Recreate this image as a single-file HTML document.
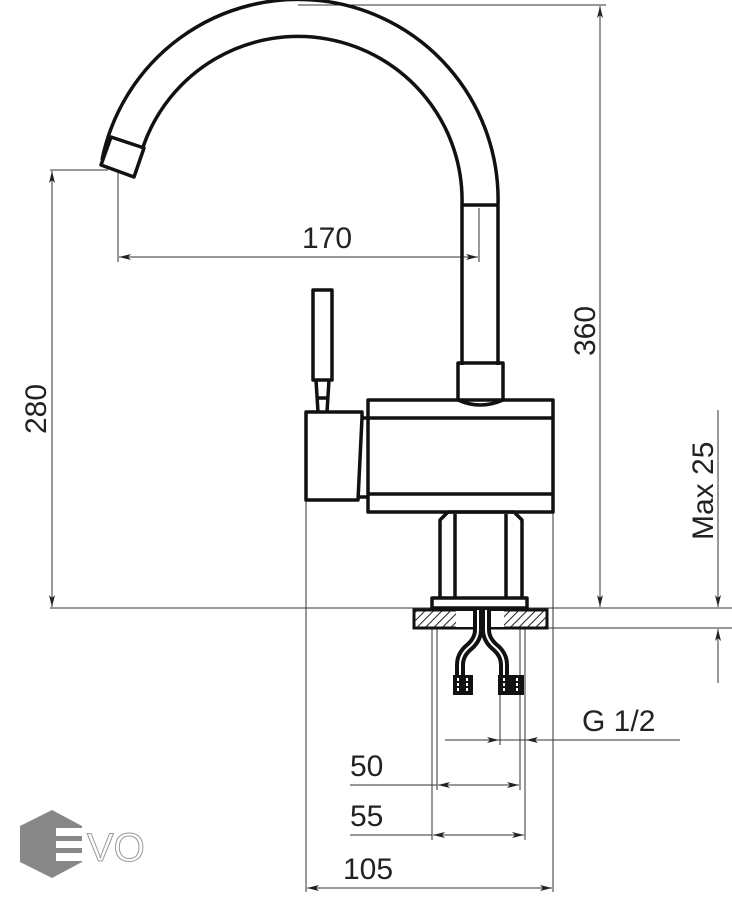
<!DOCTYPE html>
<html><head><meta charset="utf-8"><style>html,body{margin:0;padding:0;background:#fff}svg{display:block}</style></head>
<body>
<svg width="732" height="900" viewBox="0 0 732 900" xmlns="http://www.w3.org/2000/svg" font-family="Liberation Sans, sans-serif">
<defs>
<marker id="a" viewBox="0 0 12 6" refX="12" refY="3" markerWidth="12" markerHeight="6" orient="auto-start-reverse" markerUnits="userSpaceOnUse"><path d="M0,0 L12,3 L0,6 L3,3 z" fill="#222"/></marker>
<pattern id="h" width="6" height="6" patternUnits="userSpaceOnUse" patternTransform="rotate(45)"><line x1="0" y1="0" x2="0" y2="6" stroke="#222" stroke-width="2"/></pattern>
</defs>
<g stroke="#333" stroke-width="1" fill="none">
<line x1="298" y1="5" x2="606" y2="5"/>
<line x1="600" y1="6" x2="600" y2="607" marker-start="url(#a)" marker-end="url(#a)"/>
<line x1="50" y1="170" x2="108" y2="170"/>
<line x1="52" y1="171" x2="52" y2="607" marker-start="url(#a)" marker-end="url(#a)"/>
<line x1="50" y1="608" x2="732" y2="608"/>
<line x1="548" y1="628" x2="732" y2="628"/>
<line x1="718" y1="410" x2="718" y2="607" marker-end="url(#a)"/>
<line x1="718" y1="683" x2="718" y2="629" marker-end="url(#a)"/>
<line x1="118" y1="172" x2="118" y2="262"/>
<line x1="479" y1="208" x2="479" y2="262"/>
<line x1="119" y1="257" x2="478" y2="257" marker-start="url(#a)" marker-end="url(#a)"/>
<line x1="306" y1="500" x2="306" y2="892"/>
<line x1="553" y1="512" x2="553" y2="892"/>
<line x1="432" y1="628" x2="432" y2="840"/>
<line x1="437" y1="628" x2="437" y2="790"/>
<line x1="520" y1="628" x2="520" y2="790"/>
<line x1="525" y1="628" x2="525" y2="840"/>
<line x1="500" y1="695" x2="500" y2="745"/>
<line x1="445" y1="740" x2="680" y2="740"/>
<line x1="470" y1="740" x2="499" y2="740" marker-end="url(#a)"/>
<line x1="550" y1="740" x2="526" y2="740" marker-end="url(#a)"/>
<line x1="350" y1="785" x2="437" y2="785"/>
<line x1="438" y1="785" x2="519" y2="785" marker-start="url(#a)" marker-end="url(#a)"/>
<line x1="350" y1="835" x2="432" y2="835"/>
<line x1="433" y1="835" x2="524" y2="835" marker-start="url(#a)" marker-end="url(#a)"/>
<line x1="307" y1="888" x2="552" y2="888" marker-start="url(#a)" marker-end="url(#a)"/>
</g>
<g stroke="#111" stroke-width="3.5" fill="none" stroke-linejoin="round">
<path d="M102,160 A200,200 0 0 1 498,205 L498,365"/>
<path d="M143,147 A164,164 0 0 1 462,205 L462,365"/>
<line x1="462" y1="205" x2="498" y2="205"/>
<path d="M111,137 L144,148 L134,177 L101,165 Z" fill="#fff"/>
<path d="M458,400 L458,363 L503,363 L503,400 Q480,410 458,400"/>
<rect x="368" y="400" width="185" height="112"/>
<line x1="368" y1="418" x2="553" y2="418"/>
<line x1="368" y1="494" x2="553" y2="494"/>
<rect x="313" y="290" width="19" height="90"/>
<path d="M316,380 L318,412 M329,380 L327,412"/>
<line x1="317" y1="398" x2="328" y2="398"/>
<path d="M306,412 L362,412 L362,418 L358,500 L306,500 Z"/>
<line x1="362" y1="418" x2="368" y2="418"/>
<line x1="358" y1="497" x2="368" y2="497"/>
<path d="M440,598 L440,520 L448,512 L514,512 L522,520 L522,598"/>
<line x1="455" y1="514" x2="455" y2="598"/>
<line x1="506" y1="514" x2="506" y2="598"/>
<rect x="432" y="598" width="95" height="10"/>
</g>
<rect x="414" y="610" width="133" height="18" fill="url(#h)" stroke="#111" stroke-width="3"/>
<rect x="456" y="611" width="48" height="16" fill="#fff"/>
<g fill="none" stroke="#111" stroke-linejoin="round">
<path d="M478,610 L478,630 Q478,640 468,648 Q460,655 460,665 L460,680" stroke-width="10"/>
<path d="M486,610 L486,630 Q486,640 496,648 Q504,655 504,665 L504,680" stroke-width="10"/>
<path d="M478,610 L478,630 Q478,640 468,648 Q460,655 460,665 L460,680" stroke="#fff" stroke-width="2"/>
<path d="M486,610 L486,630 Q486,640 496,648 Q504,655 504,665 L504,680" stroke="#fff" stroke-width="2"/>
</g>
<rect x="453" y="675" width="20" height="20" fill="#111"/>
<rect x="498" y="675" width="26" height="20" fill="#111"/>
<g stroke="#fff" stroke-width="2" stroke-dasharray="3,2"><line x1="458" y1="678" x2="458" y2="692"/><line x1="467" y1="678" x2="467" y2="692"/><line x1="504" y1="678" x2="504" y2="692"/><line x1="517" y1="678" x2="517" y2="692"/></g>
<g fill="#222" font-size="30">
<text x="302" y="248">170</text>
<text transform="translate(595,356) rotate(-90)">360</text>
<text transform="translate(46,434) rotate(-90)">280</text>
<text transform="translate(713,540) rotate(-90)">Max 25</text>
<text x="582" y="731">G 1/2</text>
<text x="350" y="776">50</text>
<text x="350" y="826">55</text>
<text x="343" y="879">105</text>
</g>
<polygon points="52,810 82,826 82,862 52,878 20,862 20,826" fill="#888"/>
<g fill="#fff"><rect x="56" y="828" width="26" height="8"/><rect x="56" y="841" width="26" height="7"/><rect x="56" y="853" width="26" height="8"/></g>
<text x="87" y="861" font-size="40" fill="#fff" stroke="#999" stroke-width="1">VO</text>
</svg>
</body></html>
